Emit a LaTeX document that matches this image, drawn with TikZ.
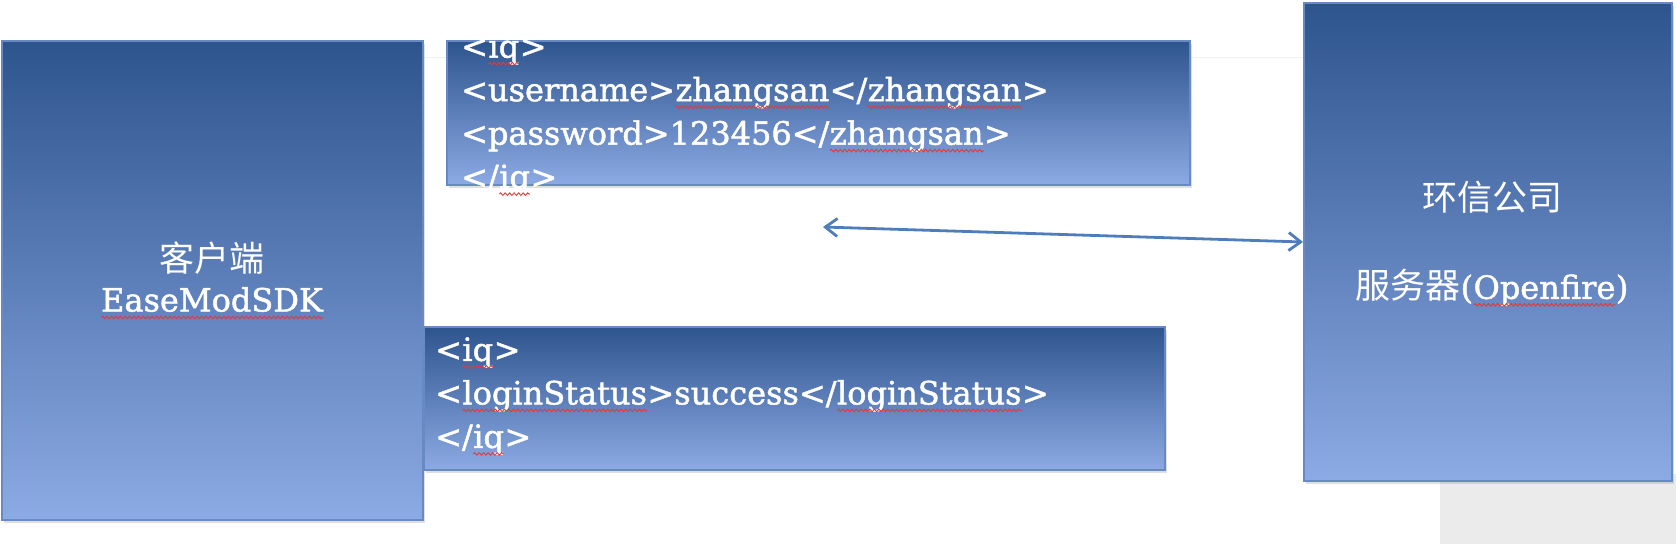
\documentclass[tikz,border=0pt]{standalone}
\usepackage{fontspec}
\setmainfont{DejaVu Serif}[FakeBold=1.5]
\newfontfamily\cjk{Noto Sans CJK SC}
\usetikzlibrary{positioning,shadows,arrows.meta,decorations.pathmorphing}
\definecolor{boxtop}{RGB}{46,84,142}
\definecolor{boxbottom}{RGB}{140,170,228}
\definecolor{boxline}{RGB}{104,138,196}
\definecolor{arrowblue}{RGB}{79,124,186}
\definecolor{spellred}{RGB}{226,58,58}
\newcommand{\squig}[1]{\tikz[baseline=0pt]{\node[inner sep=0pt,outer sep=0pt,anchor=base] (sqword) at (0,0) {#1};
   \draw[spellred,line width=0.9pt,decorate,decoration={snake,amplitude=1.3pt,segment length=4.5pt}]
      ([yshift=-6pt]sqword.base west) -- ([yshift=-6pt]sqword.base east);}}

\begin{document}
\begin{tikzpicture}[x=1pt,y=1pt,
                       grad box/.style={rectangle,draw=boxline,line width=2pt,inner sep=0pt,
                                        top color=boxtop,bottom color=boxbottom,
                                        drop shadow={shadow xshift=2pt,shadow yshift=-3pt,opacity=0.25}},
                       big text/.style={text=white,align=center,inner sep=0pt,
                                        font=\fontsize{32}{40}\selectfont},
                       msg text/.style={text=white,align=left,inner sep=0pt,anchor=west,
                                        font=\fontsize{32}{43.5}\selectfont},
                       link/.style={arrowblue,line width=2.8pt,
                                    {Straight Barb[length=12pt,width=18pt]}-{Straight Barb[length=12pt,width=18pt]}}
                           ]
   \useasboundingbox (0,0) rectangle (1676,544);
   \fill[black!8] (1440,0) rectangle (1676,70);
   \draw[black!6,line width=1pt] (0,486) -- (1440,486);
   \node[grad box,minimum width=421,minimum height=479] (client) at (212,263.5) {};
   \node[grad box,minimum width=743,minimum height=144] (login) at (818.5,431) {};
   \node[grad box,minimum width=741,minimum height=143] (result) at (794.5,145.5) {};
   \node[grad box,minimum width=368,minimum height=478] (server) at (1488,302) {};
   \node[big text] (clientlabel) at (client) {{\cjk\fontsize{35}{40}\selectfont 客户端}\\\squig{EaseModSDK}};
   \node[big text] (serverlabel) at ([xshift=4pt,yshift=-2pt]server.center)
      {{\cjk\fontsize{35}{40}\selectfont 环信公司}\\[48pt]{\cjk\fontsize{35}{40}\selectfont 服务器}(\squig{Openfire})};
   \node[msg text] (logintext) at ([xshift=15pt,yshift=-2pt]login.west)
      {<\squig{iq}>\\<username>\squig{zhangsan}</\squig{zhangsan}>\\<password>123456</\squig{zhangsan}>\\</\squig{iq}>};
   \node[msg text] (resulttext) at ([xshift=12pt,yshift=2pt]result.west)
      {<\squig{iq}>\\<\squig{loginStatus}>success</\squig{loginStatus}>\\</\squig{iq}>};
   \coordinate (arrowtail) at (823,317);
   \draw[link] (arrowtail) -- (server.west);
\end{tikzpicture}
\end{document}
